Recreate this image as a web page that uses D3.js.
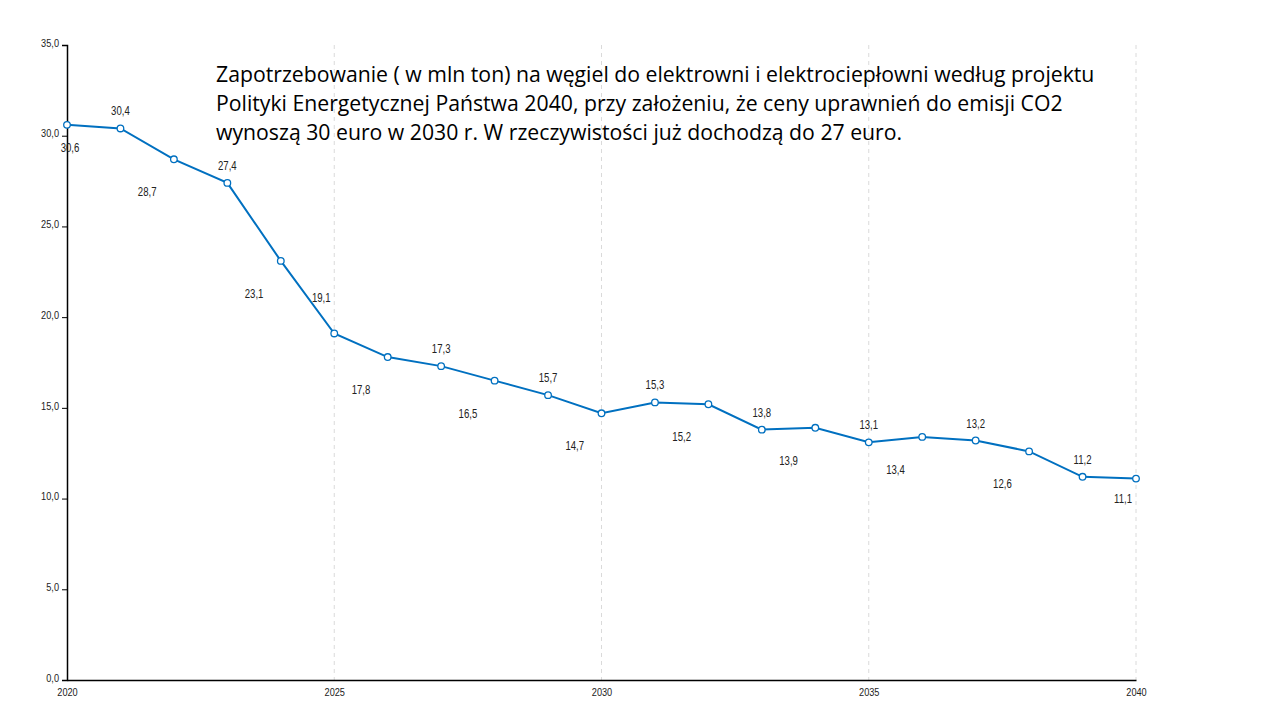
<!DOCTYPE html>
<html>
<head>
<meta charset="utf-8">
<script src="https://cdn.jsdelivr.net/npm/d3@7"></script>
<style>
  body { margin: 0; background: #fff; }
  svg { display: block; }
  .tick text { font-family: "Liberation Sans Narrow", "Liberation Sans", Arial, sans-serif; font-size: 11.5px; fill: #222; }
  .lbl { font-family: "Liberation Sans Narrow", "Liberation Sans", Arial, sans-serif; font-size: 12px; fill: #222; }
  .title { font-family: "Open Sans", "Noto Sans", sans-serif; font-size: 19px; fill: #000; }
</style>
</head>
<body>
<svg width="1280" height="720"></svg>
<script>
// data
const years = [2020, 2021, 2022, 2023, 2024, 2025, 2026, 2027, 2028, 2029, 2030,
               2031, 2032, 2033, 2034, 2035, 2036, 2037, 2038, 2039, 2040];
const demand = [30.6, 30.4, 28.7, 27.4, 23.1, 19.1, 17.8, 17.3, 16.5, 15.7, 14.7,
                15.3, 15.2, 13.8, 13.9, 13.1, 13.4, 13.2, 12.6, 11.2, 11.1];
const yTicks = [0, 5, 10, 15, 20, 25, 30, 35];
const xTicks = [2020, 2025, 2030, 2035, 2040];
const titleLines = [
  'Zapotrzebowanie ( w mln ton) na węgiel do elektrowni i elektrociepłowni według projektu',
  'Polityki Energetycznej Państwa 2040, przy założeniu, że ceny uprawnień do emisji CO2',
  'wynoszą 30 euro w 2030 r.  W rzeczywistości  już dochodzą do 27 euro.'
];

const svg = d3.select('svg');
const fmt = v => d3.format('.1f')(v).replace('.', ',');
const narrow = 0.8; // squeeze labels like the condensed font in the picture

// scales
const xScale = d3.scaleLinear().domain([2020, 2040]).range([67, 1136]);
const yScale = d3.scaleLinear().domain([0, 35]).range([680, 45]);
const step = xScale(2021) - xScale(2020);

// dashed vertical gridlines
svg.append('g')
  .selectAll('line')
  .data(xTicks.slice(1))
  .enter()
  .append('line')
  .attr('x1', d => xScale(d)).attr('x2', d => xScale(d))
  .attr('y1', yScale(35)).attr('y2', yScale(0))
  .attr('stroke', '#dadada')
  .attr('stroke-dasharray', '4,4');

// y axis
const yAxis = d3.axisLeft(yScale).tickValues(yTicks).tickSize(5).tickFormat(fmt);
svg.append('g')
  .attr('transform', `translate(${xScale(2020)}, 0)`)
  .call(yAxis)
  .call(g => g.select('.domain').attr('stroke', '#000').attr('stroke-width', 1.5))
  .call(g => g.selectAll('.tick line').attr('stroke', '#000'))
  .call(g => g.selectAll('.tick text')
    .attr('x', null)
    .attr('dy', '0.1em')
    .attr('transform', `translate(-8, 0) scale(${narrow}, 1)`));

// x axis
const xAxis = d3.axisBottom(xScale).tickValues(xTicks).tickSize(0).tickFormat(d3.format('d'));
svg.append('g')
  .attr('transform', `translate(0, ${yScale(0)})`)
  .call(xAxis)
  .call(g => g.select('.domain').attr('stroke', '#000').attr('stroke-width', 1.5))
  .call(g => g.selectAll('.tick text')
    .attr('y', null)
    .attr('transform', `translate(0, 8) scale(${narrow}, 1)`));

// line
const line = d3.line()
  .x((d, i) => xScale(years[i]))
  .y(d => yScale(d));
svg.append('path')
  .attr('d', line(demand))
  .attr('fill', 'none')
  .attr('stroke', '#0070c0')
  .attr('stroke-width', 2);

// points
svg.append('g')
  .selectAll('circle')
  .data(demand)
  .enter()
  .append('circle')
  .attr('cx', (d, i) => xScale(years[i]))
  .attr('cy', d => yScale(d))
  .attr('r', 3.3)
  .attr('fill', '#fff')
  .attr('stroke', '#0070c0')
  .attr('stroke-width', 1.3);

// value labels: odd years above, even years below and to the left
function labelPos(d, i) {
  const x = xScale(years[i]);
  const y = yScale(d);
  if (i === 0) return [x + 3, y + 27];
  if (i === 5) return [x - 13, y - 31];
  if (i === demand.length - 1) return [x - 13, y + 24];
  return i % 2 ? [x, y - 13] : [x - step / 2, y + 37];
}
svg.append('g')
  .selectAll('text')
  .data(demand)
  .enter()
  .append('text')
  .attr('class', 'lbl')
  .attr('text-anchor', 'middle')
  .attr('transform', (d, i) => {
    const [x, y] = labelPos(d, i);
    return `translate(${x}, ${y}) scale(${narrow}, 1)`;
  })
  .text(fmt);

// title
const title = svg.append('text')
  .attr('class', 'title')
  .attr('x', 216)
  .attr('y', 82);
title.selectAll('tspan')
  .data(titleLines)
  .enter()
  .append('tspan')
  .attr('x', 216)
  .attr('dy', (d, i) => i ? 29 : 0)
  .text(d => d);

// fit first title line to its width in the picture
const w = title.select('tspan').node().getComputedTextLength();
title.style('font-size', (19 * 879 / w) + 'px');
</script>
</body>
</html>
